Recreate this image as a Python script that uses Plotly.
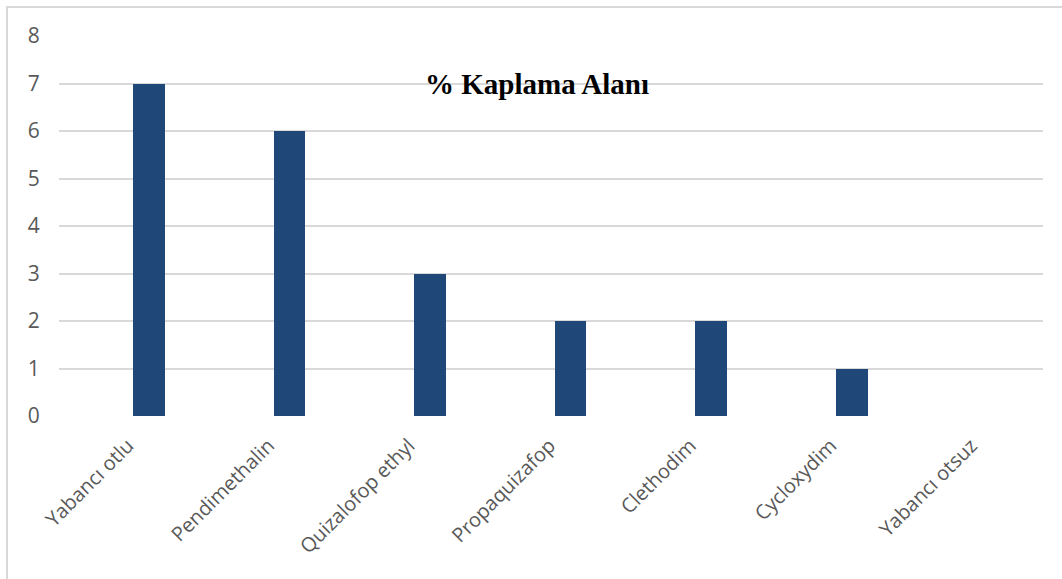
import plotly.graph_objects as go

categories = ["Yabancı otlu", "Pendimethalin", "Quizalofop ethyl", "Propaquizafop",
              "Clethodim", "Cycloxydim", "Yabancı otsuz"]
values = [7, 6, 3, 2, 2, 1, 0]
y_ticks = [0, 1, 2, 3, 4, 5, 6, 7, 8]
title_text = "% Kaplama Alanı"

W, H = 1062, 579
L, R, T, B = 59, 19, 36, 163
pw, ph = W - L - R, H - T - B

fig = go.Figure()
fig.add_trace(go.Bar(x=categories, y=values, marker=dict(color="#1F4778", line=dict(width=0)),
                     width=0.225))

def px_to_paper_x(px):
    return (px - L) / pw

def py_to_paper_y(py):
    return (H - B - py) / ph

fig.add_shape(type="rect", xref="paper", yref="paper",
              x0=px_to_paper_x(7), x1=px_to_paper_x(1080),
              y0=py_to_paper_y(600), y1=py_to_paper_y(7),
              line=dict(color="#D9D9D9", width=2), fillcolor="rgba(0,0,0,0)", layer="below")

fig.add_annotation(text="<b>" + title_text + "</b>", xref="paper", yref="paper",
                   x=px_to_paper_x(537), y=py_to_paper_y(84), xanchor="center", yanchor="middle",
                   showarrow=False, font=dict(family="Liberation Serif", size=29, color="#000000"))

fig.update_layout(
    width=W, height=H,
    margin=dict(l=L, r=R, t=T, b=B, autoexpand=False),
    paper_bgcolor="white", plot_bgcolor="white",
    showlegend=False,
    font=dict(family="Open Sans", color="#595959", size=20),
    xaxis=dict(range=[-0.64, 6.36], tickangle=-45, showgrid=False, showline=False,
               ticks="outside", ticklen=9, tickcolor="rgba(0,0,0,0)",
               ticklabelshift=-21,
               tickfont=dict(size=20, color="#595959"), zeroline=False),
    yaxis=dict(range=[0, 8], tickvals=y_ticks, showgrid=True, gridcolor="#D9D9D9", gridwidth=2,
               zeroline=False, showline=False, ticks="outside", ticklen=14,
               tickcolor="rgba(0,0,0,0)", tickfont=dict(size=21, color="#595959")),
    bargap=0.0,
)

fig.write_html("out.html")
